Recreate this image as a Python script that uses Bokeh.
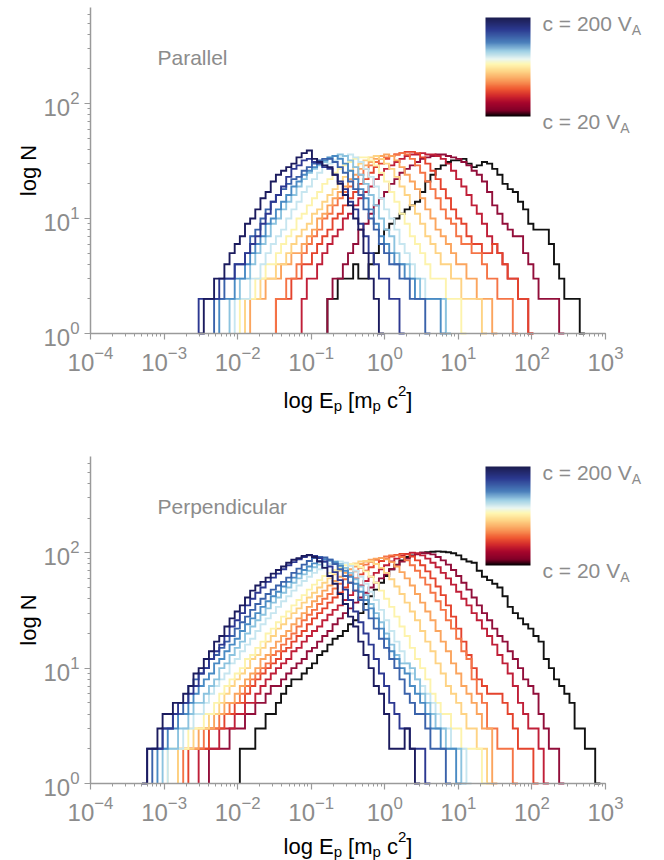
import numpy as np
from bokeh.plotting import figure
from bokeh.models import Range1d, Label, ColorBar, LinearColorMapper, FixedTicker
from bokeh.layouts import column
from bokeh.embed import file_html
from bokeh.resources import INLINE

# ---------------- data ----------------
BIN_DEX = 0.07        # histogram bin width in log10(E_p)
LOG_E0 = -4.0         # log10(E_p) of bin index 0
X_AXIS = (1e-4, 1e3)  # extent of the drawn x axis
Y_AXIS = (1, 684)     # extent of the drawn y axis

# curve colours, from c = 200 V_A (navy) to c = 20 V_A (black)
CURVE_COLORS = ["#1b1b5e", "#2c3891", "#3a62aa", "#4a8bc4", "#8cc3df", "#c7e6f0",
                "#fdf3ac", "#fed384", "#fba55e", "#f57446", "#e4432d", "#c01f38",
                "#920e3a", "#111111"]

# first bin index of every histogram, parallel shock
PAR_START = [21, 21, 24, 25, 27, 28, 29, 30, 31, 36, 36, 41, 46, 46]
PAR_COUNTS = [
    [1,2,2,3,3,4,5,6,7,9,10,12,15,17,21,24,26,28,30,34,37,39,33,31,29,28,24,20,16,13,10,8,5,3,2,1],
    [2,2,2,2,3,3,3,4,4,5,6,7,9,11,14,16,19,23,27,29,32,33,31,30,28,27,24,21,18,14,12,9,7,5,4,3,3,2,2,1],
    [2,2,3,3,4,4,5,7,8,10,12,14,16,18,20,22,23,26,28,30,32,33,33,31,28,25,21,18,16,12,10,8,6,5,4,4,3,3,2,2,2,1],
    [2,2,2,3,3,4,5,6,7,9,10,12,14,16,19,21,24,26,28,30,32,34,35,33,30,26,22,18,15,12,9,7,6,5,4,4,3,3,2,2,2,2,2,1],
    [2,2,3,3,4,5,6,7,9,10,12,14,16,19,22,25,27,29,31,33,35,36,35,32,28,24,20,16,13,10,8,7,5,4,4,3,3,2,2,2,2,2,1],
    [2,2,2,3,3,4,5,6,7,8,10,12,14,17,19,22,25,28,30,32,34,35,36,34,31,27,23,19,15,12,10,8,6,5,4,3,3,2,2,2,2,1],
    [2,2,2,3,3,4,4,5,6,7,8,10,11,13,15,17,20,22,25,27,29,31,33,34,34,32,29,25,21,17,14,11,9,7,6,5,4,3,3,3,2,2,2,1],
    [2,2,2,3,3,3,4,4,5,6,7,8,9,11,12,14,16,18,21,23,26,28,30,32,34,35,33,30,27,23,19,16,13,11,9,7,6,5,4,4,3,3,2,2,2,2,1],
    [2,2,2,3,3,3,4,4,5,5,6,7,8,10,11,13,15,17,19,22,24,27,29,31,33,35,36,35,32,28,24,21,18,15,12,10,8,7,6,5,4,4,3,3,2,2,2,1],
    [2,2,3,3,4,5,6,7,8,10,11,13,15,17,19,22,24,27,29,31,33,34,35,36,37,36,33,29,25,21,18,15,12,10,9,7,6,6,5,5,4,3,3,2,2,2,1],
    [2,2,2,3,3,4,4,5,6,7,8,10,11,13,15,17,20,22,25,28,30,33,35,36,37,38,38,37,34,30,26,22,18,15,12,10,9,7,6,6,5,5,6,5,4,3,3,2,2,1],
    [2,3,3,4,5,6,7,8,10,11,13,15,17,19,22,24,27,29,31,33,35,36,36,37,36,36,35,33,30,26,22,19,16,13,11,9,7,6,5,4,3,3,2,2,1],
    [2,3,3,4,5,6,8,9,11,13,15,17,20,22,25,27,29,31,33,34,35,36,36,35,34,33,31,29,26,24,21,17,13,11,9,8,7,7,5,4,3,2,2,2,2,1],
    [2,2,3,3,3,4,3,3,4,5,6,8,9,10,11,12,13,14,17,21,24,27,29,31,32,32,33,30,28,29,31,30,27,24,20,18,17,14,12,9,8,8,8,6,4,3,2,2,2,1],
]

# first bin index of every histogram, perpendicular shock
PERP_START = [10, 11, 12, 13, 14, 15, 15, 17, 17, 18, 19, 21, 23, 29]
PERP_COUNTS = [
    [1,2,2,3,4,4,5,5,6,7,9,10,12,14,17,19,23,27,31,35,41,47,52,56,61,66,71,76,82,87,90,94,96,92,84,74,63,54,44,36,28,23,17,13,10,7,6,4,2,2,2,3,2,1],
    [2,2,2,3,3,4,5,5,6,7,9,10,12,14,16,19,23,26,30,35,40,45,50,56,61,66,72,78,83,88,92,95,94,90,84,76,68,58,48,39,31,25,20,16,12,9,7,5,4,3,3,2,2,2,1],
    [2,2,3,3,4,4,5,7,8,9,10,12,13,15,17,19,22,25,28,32,36,40,44,48,52,56,61,67,73,79,85,90,92,91,87,80,72,63,55,47,39,32,27,22,18,15,12,10,8,6,5,4,4,3,2,2,2,1],
    [2,2,3,3,4,4,5,6,7,8,9,11,12,14,16,18,21,24,27,30,34,38,42,46,51,56,61,66,71,76,81,85,88,87,83,77,70,62,54,46,39,33,27,22,18,14,12,10,9,7,6,5,4,3,3,2,2,2,1],
    [2,2,2,3,3,4,5,5,6,7,8,10,11,13,15,17,20,23,26,29,33,37,41,45,50,55,60,65,70,75,79,83,85,84,80,74,67,59,51,43,36,30,25,20,16,13,11,11,10,8,6,5,4,3,3,2,2,2,1],
    [2,2,2,3,3,4,4,5,6,7,8,9,11,12,14,16,18,21,24,27,30,34,38,42,47,52,57,62,67,72,76,80,83,84,82,77,70,62,54,46,39,32,26,21,17,14,11,9,8,7,6,5,4,3,3,2,2,2,1],
    [2,2,2,2,3,3,3,4,4,5,6,7,8,9,10,12,13,15,17,20,22,25,28,31,35,39,43,48,53,58,63,67,71,75,78,80,79,75,69,62,55,47,40,34,28,23,19,15,12,10,8,6,5,4,4,3,3,2,2,2,2,1],
    [2,2,2,3,3,3,4,4,5,6,7,8,9,10,12,13,15,17,19,22,24,27,30,33,37,41,45,50,55,60,65,70,74,78,81,84,85,84,80,74,67,59,51,44,37,31,26,21,17,14,11,9,7,6,5,4,3,3,2,2,1],
    [2,2,2,2,3,3,3,4,4,5,5,6,7,8,9,10,12,13,15,17,19,21,24,27,30,34,38,42,47,52,57,62,67,72,76,80,84,87,89,90,88,83,76,68,60,52,44,37,31,26,21,17,14,11,9,7,6,5,4,3,3,1],
    [2,2,2,2,3,3,3,4,4,5,5,6,7,8,9,10,11,13,14,16,18,20,23,26,29,32,36,40,44,49,54,59,64,69,74,79,83,87,90,93,95,95,92,86,78,70,61,53,45,38,32,26,22,18,14,12,8,6,5,3,3,2,2,2,1],
    [2,2,2,2,3,3,3,4,4,5,5,6,7,8,9,10,11,12,14,15,17,19,21,24,27,30,33,37,41,45,50,55,60,65,70,75,80,85,89,93,96,98,97,93,86,78,69,60,51,43,35,28,22,17,13,10,8,7,6,6,6,5,4,3,2,2,2,1],
    [2,2,2,2,3,3,3,4,4,5,5,6,7,8,9,10,11,12,14,15,17,19,21,23,26,29,32,35,39,43,47,52,57,62,67,72,78,
     84,89,94,98,100,99,95,89,82,75,67,60,53,46,40,35,30,26,22,19,16,13,11,9,7,5,4,3,3,2,1],
    [2,2,2,2,3,3,3,4,4,5,5,6,7,7,8,9,10,11,12,14,15,17,19,21,24,27,30,33,37,41,45,50,55,60,65,
     72,78,84,89,94,97,100,99,97,92,86,79,71,63,55,48,41,35,30,26,22,19,17,14,12,10,8,7,6,4,3,2,2,1],
    [2,2,2,3,3,4,4,5,6,7,8,8,9,10,11,13,14,16,18,19,21,24,26,30,36,42,48,55,63,72,79,86,92,95,98,100,101,102,103,102,101,99,95,88,84,82,70,62,58,54,50,42,34,30,27,24,22,19,17,12,10,8,7,6,5,3,3,2,2,1],
]

PANEL_TITLES = ["Parallel", "Perpendicular"]
Y_LABEL = "log N"
CBAR_TOP_TEXT = "c = 200 V"
CBAR_BOTTOM_TEXT = "c = 20 V"
CBAR_SUB = "A"

# ---------------- layout / styling ----------------
FIG_W, FIG_H = 664, 430
AX_LEFT_PX, AX_RIGHT_PX = 90, 605                  # x-axis pixel extent inside a figure
PANEL_Y = {"top": (7, 333), "bottom": (26, 353)}   # y-axis pixel extent (top, bottom)
XLABEL_BASE = {"top": 67, "bottom": 63}            # x-label baseline below the axis

FONT = "Liberation Sans"
GRAY = "#8c8c8c"
AXIS_GRAY = "#9a9a9a"

# colour-bar gradient stops (fraction from the bottom, colour)
CB_STOPS = [(0.00, "#000000"), (0.06, "#820028"), (0.14, "#a8062c"), (0.21, "#d3292c"),
            (0.28, "#f05a32"), (0.36, "#f99a58"), (0.45, "#fed283"), (0.53, "#fff7b3"),
            (0.58, "#eaf6f1"), (0.66, "#9fd0e5"), (0.75, "#4a7fbb"), (0.88, "#2b3990"),
            (1.00, "#1c1c4f")]


def hex2rgb(h):
    return np.array([int(h[i:i + 2], 16) for i in (1, 3, 5)], dtype=float)


def make_palette(n=256):
    pos = np.array([s[0] for s in CB_STOPS])
    cols = np.array([hex2rgb(s[1]) for s in CB_STOPS])
    out = []
    for ti in np.linspace(0, 1, n):
        rgb = [np.interp(ti, pos, cols[:, j]) for j in range(3)]
        out.append("#%02x%02x%02x" % tuple(int(round(v)) for v in rgb))
    return out


PALETTE = make_palette()

# Arial / Liberation Sans advance widths (em)
W = {'l': 0.222, 'o': 0.556, 'g': 0.556, ' ': 0.278, 'E': 0.667, 'p': 0.556, '[': 0.278,
     'm': 0.833, 'c': 0.5, '2': 0.556, ']': 0.278, '=': 0.584, '0': 0.556, 'V': 0.667, 'A': 0.667}


def text_width(t, size):
    return sum(W.get(ch, 0.55) for ch in t) * size


def rich_label(p, parts, x0, y0, color):
    x = x0
    for text, size, dy in parts:
        stripped = text.lstrip(" ")
        lead = text_width(text[:len(text) - len(stripped)], size)
        p.add_layout(Label(x=x + lead, y=y0 + dy, x_units="screen", y_units="screen",
                           text=stripped, text_font=FONT, text_font_size=f"{size}px",
                           text_color=color, text_baseline="alphabetic", text_align="left"))
        x += text_width(text, size)


def step_xy(k0, counts):
    edges = 10 ** (LOG_E0 + BIN_DEX * (k0 + np.arange(len(counts) + 1)))
    xs = np.repeat(edges, 2)
    ys = np.concatenate([[Y_AXIS[0]], np.repeat(np.array(counts, dtype=float), 2), [Y_AXIS[0]]])
    return xs, ys


def make_panel(title, starts, counts, which):
    # map the axis extents to fixed pixel positions; the frame fills the whole figure
    lx0, lx1 = np.log10(X_AXIS)
    xdec = (AX_RIGHT_PX - AX_LEFT_PX) / (lx1 - lx0)
    x_lo = 10 ** (lx0 - AX_LEFT_PX / xdec)
    x_hi = 10 ** (lx1 + (FIG_W - AX_RIGHT_PX) / xdec)
    ptop, pbot = PANEL_Y[which]
    ly0, ly1 = np.log10(Y_AXIS)
    ydec = (pbot - ptop) / (ly1 - ly0)
    y_hi = 10 ** (ly1 + ptop / ydec)
    y_lo = 10 ** (ly0 - (FIG_H - pbot) / ydec)

    p = figure(width=FIG_W, height=FIG_H, x_axis_type="log", y_axis_type="log",
               x_range=Range1d(x_lo, x_hi), y_range=Range1d(y_lo, y_hi),
               output_backend="svg", toolbar_location=None,
               min_border=0, min_border_left=0, min_border_right=0,
               min_border_top=0, min_border_bottom=0)
    p.outline_line_color = None
    p.grid.visible = False
    p.background_fill_color = "white"
    p.border_fill_color = "white"

    xa, ya = p.xaxis[0], p.yaxis[0]
    xa.fixed_location = Y_AXIS[0]
    xa.bounds = X_AXIS
    ya.fixed_location = X_AXIS[0]
    ya.bounds = Y_AXIS
    for ax in (xa, ya):
        ax.axis_line_color = AXIS_GRAY
        ax.axis_line_width = 1.5
        ax.major_tick_line_color = AXIS_GRAY
        ax.minor_tick_line_color = AXIS_GRAY
        ax.major_tick_line_width = 1.2
        ax.major_tick_in = 0
        ax.major_tick_out = 6
        ax.minor_tick_in = 0
        ax.minor_tick_out = 3
        ax.major_label_text_font = FONT
        ax.major_label_text_font_size = "24px"
        ax.major_label_text_color = GRAY
    xa.major_label_standoff = 6
    ya.major_label_standoff = 5

    # histograms: navy drawn last (on top)
    for i in list(range(len(counts)))[::-1]:
        xs, ys = step_xy(starts[i], counts[i])
        p.line(xs, ys, line_color=CURVE_COLORS[i], line_width=1.9, line_join="miter")

    # y label
    p.add_layout(Label(x=28, y=FIG_H - (ptop + pbot) / 2, x_units="screen", y_units="screen",
                       text=Y_LABEL, angle=np.pi / 2, text_align="center", text_baseline="middle",
                       text_font=FONT, text_font_size="22px", text_color="black"))

    # panel title
    p.add_layout(Label(x=157, y=FIG_H - ptop - 50, x_units="screen", y_units="screen", text=title,
                       text_font=FONT, text_font_size="21px", text_color=GRAY,
                       text_baseline="alphabetic"))

    # colour bar
    mapper = LinearColorMapper(palette=PALETTE, low=0, high=1)
    cb = ColorBar(color_mapper=mapper, location=(485, FIG_H - ptop - 109), width=45, height=99,
                  orientation="vertical", padding=0, margin=0,
                  ticker=FixedTicker(ticks=[]), major_label_text_font_size="0px",
                  major_tick_line_color=None, minor_tick_line_color=None,
                  bar_line_color=None, border_line_color=None,
                  background_fill_color=None, background_fill_alpha=0)
    p.add_layout(cb)
    rich_label(p, [(CBAR_TOP_TEXT, 21, 0), (CBAR_SUB, 14, -6)], 542, FIG_H - ptop - 16, GRAY)
    rich_label(p, [(CBAR_BOTTOM_TEXT, 21, 0), (CBAR_SUB, 14, -6)], 542, FIG_H - ptop - 114, GRAY)

    # x-axis label with sub/superscripts
    parts = [("log E", 22, 0), ("p", 15, -5), (" [m", 22, 0), ("p", 15, -5),
             (" c", 22, 0), ("2", 15, 10), ("]", 22, 0)]
    total = sum(text_width(t, s) for t, s, _ in parts)
    rich_label(p, parts, (AX_LEFT_PX + AX_RIGHT_PX) / 2 - total / 2,
               FIG_H - pbot - XLABEL_BASE[which], "black")
    return p


p_par = make_panel(PANEL_TITLES[0], PAR_START, PAR_COUNTS, "top")
p_perp = make_panel(PANEL_TITLES[1], PERP_START, PERP_COUNTS, "bottom")

layout = column(p_par, p_perp, spacing=0)
open("out.html", "w").write(file_html(layout, INLINE))
